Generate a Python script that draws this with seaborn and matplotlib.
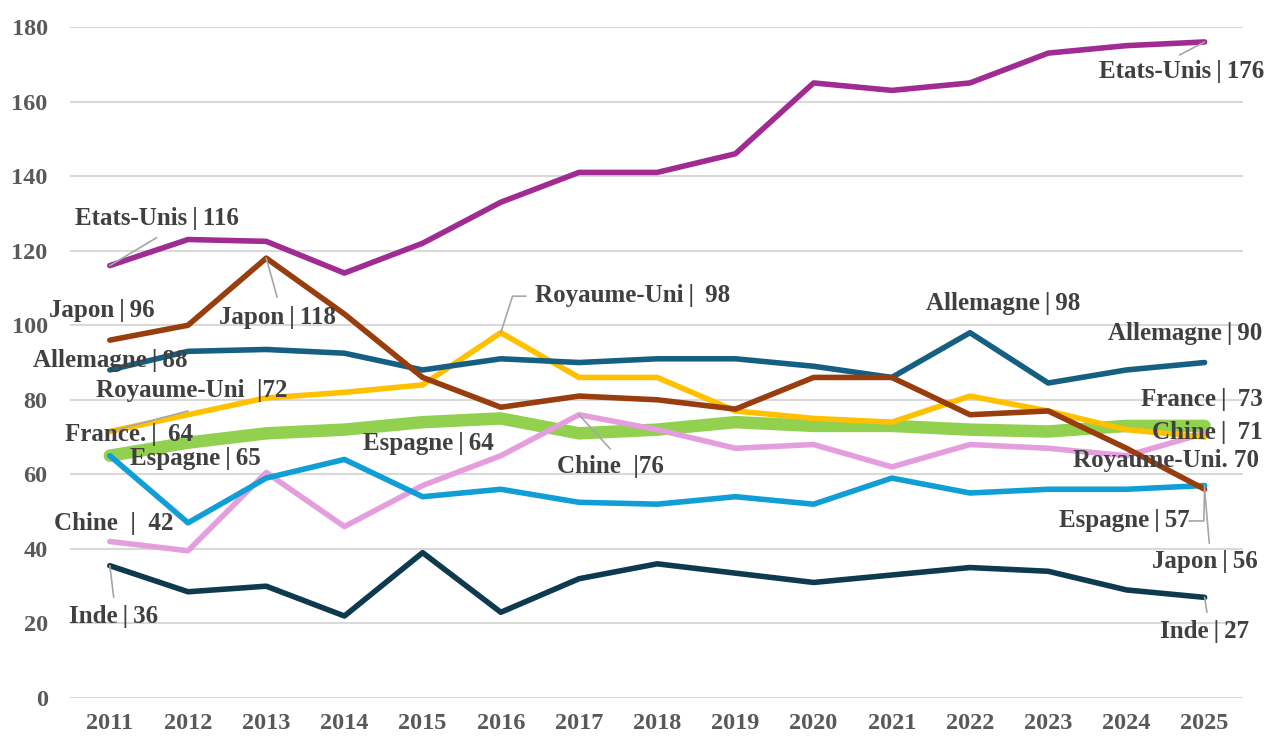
import pandas as pd
import seaborn as sns
import matplotlib.pyplot as plt

years = list(range(2011, 2026))

etats_unis  = [116, 123, 122.5, 114, 122, 133, 141, 141, 146, 165, 163, 165, 173, 175, 176]
japon       = [96, 100, 118, 103, 86, 78, 81, 80, 77.5, 86, 86, 76, 77, 67, 56]
allemagne   = [88, 93, 93.5, 92.5, 88, 91, 90, 91, 91, 89, 86, 98, 84.5, 88, 90]
royaume_uni = [71.5, 76, 80.5, 82, 84, 98, 86, 86, 77, 75, 74, 81, 77, 72, 70]
france      = [65, 68.5, 71, 72, 74, 75, 71, 72, 74, 73, 73, 72, 71.5, 73, 73]
espagne     = [65, 47, 59, 64, 54, 56, 52.5, 52, 54, 52, 59, 55, 56, 56, 57]
chine       = [42, 39.5, 60.5, 46, 57, 65, 76, 72, 67, 68, 62, 68, 67, 65, 71]
inde        = [35.5, 28.5, 30, 22, 39, 23, 32, 36, 33.5, 31, 33, 35, 34, 29, 27]

series = {
    'France': france,
    'Inde': inde,
    'Chine': chine,
    'Espagne': espagne,
    'Royaume-Uni': royaume_uni,
    'Allemagne': allemagne,
    'Japon': japon,
    'Etats-Unis': etats_unis,
}

colors = {
    'Etats-Unis': '#A02B93',
    'Japon': '#983D0E',
    'Allemagne': '#156082',
    'Royaume-Uni': '#FFC000',
    'France': '#92D050',
    'Espagne': '#0F9ED5',
    'Chine': '#E59EDD',
    'Inde': '#0E3A4F',
}

# long-form table for seaborn
df = pd.concat([pd.DataFrame({'Année': years, 'Valeur': v, 'Pays': k}) for k, v in series.items()])

sns.set_style('white')
plt.rcParams['font.family'] = ['Liberation Serif', 'DejaVu Serif']

fig = plt.figure(figsize=(12.67, 7.36), dpi=100)
ax = fig.add_axes([0.0552, 0.0516, 0.9258, 0.9117])

for pays in series:
    sub = df[df['Pays'] == pays]
    lw = 9 if pays == 'France' else 4
    sns.lineplot(data=sub, x='Année', y='Valeur', color=colors[pays], linewidth=lw,
                 solid_capstyle='round', solid_joinstyle='round', ax=ax, legend=False)

ax.set_xlim(2010.49, 2025.49)
ax.set_ylim(0, 180)
ax.set_yticks(range(0, 181, 20))
ax.set_xticks(years)
ax.yaxis.grid(True, color='#D9D9D9', linewidth=1.5)
ax.set_axisbelow(True)
for s in ax.spines.values():
    s.set_visible(False)
ax.tick_params(length=0, labelsize=17.5, labelcolor='#595959')
for lab in ax.get_xticklabels() + ax.get_yticklabels():
    lab.set_fontweight('bold')
ax.tick_params(axis='x', pad=11)
ax.tick_params(axis='y', pad=16)
ax.set_xlabel('')
ax.set_ylabel('')

t = '\u2009|\u2009'
# data labels: (text, x, y of label, point for leader line, end of leader line)
labels = [
    ('Etats-Unis' + t + '116', 2011.6, 128.5, (2011, 116), (2011.6, 123.5)),
    ('Japon' + t + '96', 2010.9, 104, None, None),
    ('Japon' + t + '118', 2013.15, 102, (2013, 118), (2013.14, 107.5)),
    ('Allemagne' + t + '88', 2011.0, 90.5, None, None),
    ('Royaume-Uni  |72', 2012.05, 82.5, (2011, 71.5), (2012.0, 77)),
    ('France.' + t + ' 64', 2011.25, 70.6, None, None),
    ('Espagne' + t + '65', 2012.1, 64.2, None, None),
    ('Espagne' + t + '64', 2015.07, 68.4, None, None),
    ('Royaume-Uni' + t + ' 98', 2017.69, 108, (2016, 98), (2016.15, 107.8)),
    ('Chine  |76', 2017.4, 62, (2017, 76), (2017.4, 66.8)),
    ('Allemagne' + t + '98', 2022.42, 105.8, None, None),
    ('Allemagne' + t + '90', 2024.75, 97.7, None, None),
    ('France' + t + ' 73', 2024.96, 80, None, None),
    ('Chine' + t + ' 71', 2025.03, 71.2, None, None),
    ('Royaume-Uni. 70', 2024.5, 63.8, None, None),
    ('Espagne' + t + '57', 2023.98, 47.5, (2025, 57), (2024.8, 47.5)),
    ('Japon' + t + '56', 2025.0, 36.5, (2025, 56), (2025.06, 41.5)),
    ('Inde' + t + '27', 2025.0, 17.8, (2025, 27), (2025.03, 23)),
    ('Inde' + t + '36', 2011.05, 21.8, (2011, 35.5), (2011.05, 27)),
    ('Chine  |  42', 2011.05, 46.8, None, None),
    ('Etats-Unis' + t + '176', 2024.7, 168, (2025, 176), (2024.68, 172.5)),
]

for txt, tx, ty, pt, end in labels:
    if pt is not None:
        if txt.startswith('Royaume-Uni' + t):
            ax.plot([pt[0], end[0], end[0] + 0.17], [pt[1], end[1], end[1]], color='#A6A6A6', lw=1.2, zorder=5)
        elif txt.startswith('Espagne' + t + '57'):
            ax.plot([pt[0], 2024.99, end[0]], [pt[1], end[1], end[1]], color='#A6A6A6', lw=1.2, zorder=5)
        else:
            ax.plot([pt[0], end[0]], [pt[1], end[1]], color='#A6A6A6', lw=1.2, zorder=5)
    ax.text(tx, ty, txt, ha='center', va='center', fontsize=18, fontweight='bold',
            color='#404040', zorder=6)

fig.savefig('out.png', dpi=100)
